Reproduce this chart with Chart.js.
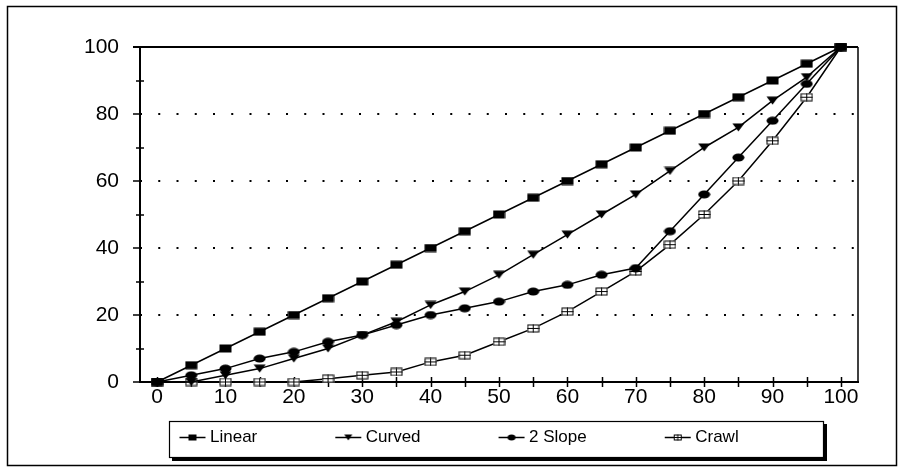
<!DOCTYPE html>
<html><head><meta charset="utf-8">
<script src="https://cdn.jsdelivr.net/npm/chart.js@4/dist/chart.umd.min.js"></script>
<style>html,body{margin:0;padding:0;background:#fff}canvas{display:block}</style>
</head><body>
<canvas id="c" width="904" height="472"></canvas>
<script>
// ---- data ----
const categories = ['0','5','10','15','20','25','30','35','40','45','50','55','60','65','70','75','80','85','90','95','100'];
const shownXLabels = ['0','10','20','30','40','50','60','70','80','90','100'];
const yLabelValues = [0, 20, 40, 60, 80, 100];
const gridValues = [20, 40, 60, 80];
const seriesNames = ['Linear', 'Curved', '2 Slope', 'Crawl'];
const linear   = [0, 5, 10, 15, 20, 25, 30, 35, 40, 45, 50, 55, 60, 65, 70, 75, 80, 85, 90, 95, 100];
const curved   = [0, 0, 2, 4, 7, 10, 14, 18, 23, 27, 32, 38, 44, 50, 56, 63, 70, 76, 84, 91, 100];
const twoSlope = [0, 2, 4, 7, 9, 12, 14, 17, 20, 22, 24, 27, 29, 32, 34, 45, 56, 67, 78, 89, 100];
const crawl    = [0, 0, 0, 0, 0, 1, 2, 3, 6, 8, 12, 16, 21, 27, 33, 41, 50, 60, 72, 85, 100];

// ---- marker images ----
function drawShape(ctx, kind, cx, cy, w, h) {
  ctx.fillStyle = '#000'; ctx.strokeStyle = '#000'; ctx.lineWidth = 1;
  if (kind === 'square') {
    ctx.fillRect(cx - w / 2, cy - h / 2, w, h);
  } else if (kind === 'triangle') {
    ctx.beginPath(); ctx.moveTo(cx - w / 2, cy - h / 2); ctx.lineTo(cx + w / 2, cy - h / 2); ctx.lineTo(cx, cy + h / 2); ctx.closePath(); ctx.fill();
  } else if (kind === 'circle') {
    ctx.beginPath(); ctx.ellipse(cx, cy, w / 2, h / 2, 0, 0, Math.PI * 2); ctx.fill();
  } else if (kind === 'crawl') {
    ctx.fillStyle = '#fff'; ctx.fillRect(cx - w / 2, cy - h / 2, w, h);
    ctx.strokeRect(cx - w / 2 + 0.5, cy - h / 2 + 0.5, w - 1, h - 1);
    ctx.beginPath(); ctx.moveTo(cx - w / 2, cy); ctx.lineTo(cx + w / 2, cy);
    ctx.moveTo(cx, cy - h / 2); ctx.lineTo(cx, cy + h / 2); ctx.stroke();
  }
}
function pointImage(kind) {
  const c = document.createElement('canvas'); c.width = 13; c.height = 9;
  drawShape(c.getContext('2d'), kind, 6.5, 4.5, 12, 8); return c;
}
function legendImage(kind) {
  const c = document.createElement('canvas'); c.width = 100; c.height = 11;
  const x = c.getContext('2d');
  x.strokeStyle = '#000'; x.lineWidth = 1.5;
  x.beginPath(); x.moveTo(73, 5.5); x.lineTo(99, 5.5); x.stroke();
  drawShape(x, kind, 86, 5.5, 8, 6); return c;
}
const kinds = ['square', 'triangle', 'circle', 'crawl'];
const seriesData = [linear, curved, twoSlope, crawl];
const legendImgs = kinds.map(legendImage);

const datasets = seriesNames.map((n, i) => ({
  label: n, data: seriesData[i], borderColor: '#000', backgroundColor: '#000',
  borderWidth: 1.5, pointStyle: pointImage(kinds[i]), pointRadius: 5, tension: 0, clip: false
}));

// ---- decorations ----
const decor = {
  id: 'decor',
  afterLayout(chart) {
    // shift the legend row so its first entry starts where the reference's does
    if (chart.legend) chart.legend.left = 101.5;
  },
  beforeDraw(chart) {
    const c = chart.ctx; c.save();
    c.fillStyle = '#fff'; c.fillRect(0, 0, chart.width, chart.height);
    c.strokeStyle = '#000'; c.lineWidth = 1.5; c.strokeRect(7.5, 6.5, 889, 459);
    // legend frame with shadow
    c.fillStyle = '#000'; c.fillRect(172, 424, 655, 37);
    c.fillStyle = '#fff'; c.fillRect(169, 421, 655, 37);
    c.lineWidth = 1.2; c.strokeRect(169.5, 421.5, 654, 36);
    c.restore();
  },
  beforeDatasetsDraw(chart) {
    const c = chart.ctx, a = chart.chartArea, xs = chart.scales.x, ys = chart.scales.y;
    c.save(); c.strokeStyle = '#000';
    c.lineWidth = 2; c.beginPath(); c.moveTo(a.left - 7, a.top); c.lineTo(a.right, a.top); c.stroke();
    c.lineWidth = 1.5; c.beginPath(); c.moveTo(a.right, a.top); c.lineTo(a.right, a.bottom); c.stroke();
    c.lineWidth = 1.5; c.beginPath();
    ys.ticks.forEach((t, i) => {
      const p = Math.round(ys.getPixelForTick(i));
      if (yLabelValues.includes(t.value)) { c.moveTo(a.left - 7, p); c.lineTo(a.left, p); }
      else { c.moveTo(a.left - 4, p); c.lineTo(a.left + 4, p); }
    });
    xs.ticks.forEach((t, i) => {
      const p = Math.round(xs.getPixelForTick(i)) + 0.5;
      c.moveTo(p, a.bottom - 5); c.lineTo(p, a.bottom + 5);
    });
    c.stroke(); c.restore();
  }
};

Chart.defaults.font.family = "'Liberation Sans', Arial, sans-serif";
Chart.defaults.color = '#000';

new Chart(document.getElementById('c'), {
  type: 'line',
  data: { labels: categories, datasets },
  options: {
    responsive: false, animation: false, devicePixelRatio: 1, events: [],
    layout: { padding: { left: 60, top: 47, right: 46, bottom: 16 } },
    scales: {
      x: {
        type: 'category', offset: true,
        afterFit(s) { s.height = 37; },
        ticks: { autoSkip: false, maxRotation: 0, padding: 3, color: '#000', font: { size: 21 },
          callback(v, i) { return shownXLabels.includes(categories[i]) ? categories[i] : ''; } },
        grid: { drawOnChartArea: false, drawTicks: false },
        border: { display: true, color: '#000', width: 2 }
      },
      y: {
        min: 0, max: 100,
        afterFit(s) { s.width = 80; },
        ticks: { stepSize: 10, autoSkip: false, padding: 21, color: '#000', font: { size: 21 },
          callback(v) { return yLabelValues.includes(v) ? String(v) : ''; } },
        grid: { drawTicks: false, lineWidth: 2,
          color(ctx) { return ctx.tick && gridValues.includes(ctx.tick.value) ? '#000' : 'rgba(0,0,0,0)'; } },
        border: { display: true, color: '#000', width: 2, dash: [2, 16.25], dashOffset: 1 }
      }
    },
    plugins: {
      tooltip: { enabled: false },
      legend: {
        position: 'bottom', align: 'start', fullSize: true,
        labels: {
          usePointStyle: true, pointStyleWidth: 90, padding: 10, color: '#000', font: { size: 17 },
          generateLabels(chart) {
            return chart.data.datasets.map((ds, i) => ({
              text: ds.label, pointStyle: legendImgs[i], fillStyle: '#000', strokeStyle: '#000',
              lineWidth: 0, hidden: false, datasetIndex: i, fontColor: '#000'
            }));
          }
        }
      }
    }
  },
  plugins: [decor]
});
</script>
</body></html>
